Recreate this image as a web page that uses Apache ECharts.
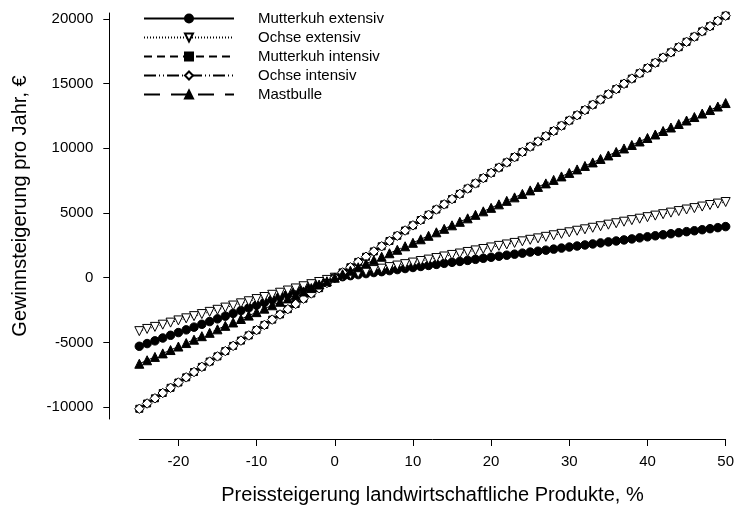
<!DOCTYPE html>
<html>
<head>
<meta charset="utf-8">
<script src="https://cdn.jsdelivr.net/npm/echarts@6/dist/echarts.min.js"></script>
<style>
html,body{margin:0;padding:0;background:#fff;}
#chart{width:737px;height:510px;}
</style>
</head>
<body>
<div id="chart"></div>
<script>
// x: price increase of agricultural products, % (-25 .. 50, step 1)
var xValues = [-25,-24,-23,-22,-21,-20,-19,-18,-17,-16,-15,-14,-13,-12,-11,-10,-9,-8,-7,-6,-5,-4,-3,-2,-1,0,1,2,3,4,5,6,7,8,9,10,11,12,13,14,15,16,17,18,19,20,21,22,23,24,25,26,27,28,29,30,31,32,33,34,35,36,37,38,39,40,41,42,43,44,45,46,47,48,49,50];

var mutterkuhExtensiv = [-5300,-5090,-4880,-4660,-4450,-4240,-4030,-3820,-3600,-3390,-3180,-2970,-2760,-2540,-2330,-2120,-1910,-1700,-1480,-1270,-1060,-850,-640,-420,-210,0,80,160,240,320,400,470,550,630,710,790,870,950,1030,1110,1190,1260,1340,1420,1500,1580,1660,1740,1820,1900,1980,2050,2130,2210,2290,2370,2450,2530,2610,2690,2770,2840,2920,3000,3080,3160,3240,3320,3400,3480,3560,3630,3710,3790,3870,3950];

var ochseExtensiv = [-4130,-3960,-3800,-3630,-3470,-3300,-3140,-2970,-2810,-2640,-2480,-2310,-2150,-1980,-1820,-1650,-1490,-1320,-1160,-990,-830,-660,-500,-330,-170,0,120,230,350,470,590,700,820,940,1050,1170,1290,1400,1520,1640,1760,1870,1990,2110,2220,2340,2460,2570,2690,2810,2930,3040,3160,3280,3390,3510,3630,3740,3860,3980,4100,4210,4330,4450,4560,4680,4800,4910,5030,5150,5270,5380,5500,5620,5730,5850];

var mutterkuhIntensiv = [-10130,-9720,-9320,-8910,-8510,-8100,-7700,-7290,-6890,-6480,-6080,-5670,-5270,-4860,-4460,-4050,-3650,-3240,-2840,-2430,-2030,-1620,-1220,-810,-410,0,410,810,1220,1620,2030,2430,2840,3240,3650,4050,4460,4860,5270,5670,6080,6480,6890,7290,7700,8100,8510,8910,9320,9720,10130,10530,10940,11340,11750,12150,12560,12960,13370,13770,14180,14580,14990,15390,15800,16200,16610,17010,17420,17820,18230,18630,19040,19440,19850,20250];

var ochseIntensiv = [-10130,-9720,-9320,-8910,-8510,-8100,-7700,-7290,-6890,-6480,-6080,-5670,-5270,-4860,-4460,-4050,-3650,-3240,-2840,-2430,-2030,-1620,-1220,-810,-410,0,410,810,1220,1620,2030,2430,2840,3240,3650,4050,4460,4860,5270,5670,6080,6480,6890,7290,7700,8100,8510,8910,9320,9720,10130,10530,10940,11340,11750,12150,12560,12960,13370,13770,14180,14580,14990,15390,15800,16200,16610,17010,17420,17820,18230,18630,19040,19440,19850,20250];

var mastbulle = [-6650,-6380,-6120,-5850,-5590,-5320,-5050,-4790,-4520,-4260,-3990,-3720,-3460,-3190,-2930,-2660,-2390,-2130,-1860,-1600,-1330,-1060,-800,-530,-270,0,270,540,810,1080,1350,1620,1890,2160,2430,2700,2970,3240,3510,3780,4050,4320,4590,4860,5130,5400,5670,5940,6210,6480,6750,7020,7290,7560,7830,8100,8370,8640,8910,9180,9450,9720,9990,10260,10530,10800,11070,11340,11610,11880,12150,12420,12690,12960,13230,13500];

var seriesNames = ['Mutterkuh extensiv','Ochse extensiv','Mutterkuh intensiv','Ochse intensiv','Mastbulle'];
var xTicks = [-20,-10,0,10,20,30,40,50];
var yTicks = [-10000,-5000,0,5000,10000,15000,20000];

function pairs(ys){ return xValues.map(function(x,i){ return [x, ys[i]]; }); }

var FONT = '"Liberation Sans", Arial, Helvetica, sans-serif';

var styles = [
  {symbol:'circle', size:8.5, rotate:0, fill:'#000', dash:'solid'},
  {symbol:'triangle', size:9, rotate:180, fill:'#fff', dash:[1,2]},
  {symbol:'rect', size:7, rotate:0, fill:'#000', dash:[8,5]},
  {symbol:'diamond', size:9.5, rotate:0, fill:'#fff', dash:[12,3,1,3,1,3]},
  {symbol:'triangle', size:9, rotate:0, fill:'#000', dash:[16,11]}
];
var dataSets = [mutterkuhExtensiv, ochseExtensiv, mutterkuhIntensiv, ochseIntensiv, mastbulle];

var series = seriesNames.map(function(name, i){
  var s = styles[i];
  return {
    name: name,
    type: 'line',
    data: pairs(dataSets[i]),
    symbol: s.symbol,
    symbolSize: s.size,
    symbolRotate: s.rotate,
    showAllSymbol: true,
    lineStyle: {color:'#000', width:1, type: s.dash},
    itemStyle: {color: s.fill, borderColor:'#000', borderWidth:1},
    emphasis: {disabled:true},
    animation: false
  };
});

var chart = echarts.init(document.getElementById('chart'), null, {renderer:'canvas'});
chart.setOption({
  backgroundColor:'#fff',
  animation:false,
  textStyle:{fontFamily:FONT, color:'#000'},
  grid:{left:139.3, right:9.3, top:13, bottom:87.3, containLabel:false},
  legend:{
    orient:'vertical',
    left:143, top:10,
    padding:0,
    itemWidth:90, itemHeight:10, itemGap:2,
    data: seriesNames,
    selectedMode:false,
    textStyle:{fontFamily:FONT, fontSize:15, color:'#000', padding:[0,0,0,19], lineHeight:17}
  },
  xAxis:{
    type:'value', min:-25, max:50, offset:20,
    name:'Preissteigerung landwirtschaftliche Produkte, %',
    nameLocation:'middle', nameGap:46,
    nameTextStyle:{fontFamily:FONT, fontSize:20, color:'#000'},
    axisLine:{show:true, onZero:false, lineStyle:{color:'#000', width:1}},
    axisTick:{show:true, length:7, customValues:xTicks, lineStyle:{color:'#000'}},
    axisLabel:{customValues:xTicks, fontFamily:FONT, fontSize:15, color:'#000', margin:15,
      formatter:function(v){ return String(v); }},
    splitLine:{show:false}
  },
  yAxis:{
    type:'value', min:-10920, max:20460, offset:30,
    name:'Gewinnsteigerung pro Jahr, €',
    nameLocation:'middle', nameGap:79,
    nameTextStyle:{fontFamily:FONT, fontSize:20, color:'#000', padding:[0,0,0,20]},
    axisLine:{show:true, onZero:false, lineStyle:{color:'#000', width:1}},
    axisTick:{show:true, length:6, customValues:yTicks, lineStyle:{color:'#000'}},
    axisLabel:{customValues:yTicks, fontFamily:FONT, fontSize:15, color:'#000', margin:16,
      formatter:function(v){ return String(v); }},
    splitLine:{show:false}
  },
  series: series
});
</script>
</body>
</html>
